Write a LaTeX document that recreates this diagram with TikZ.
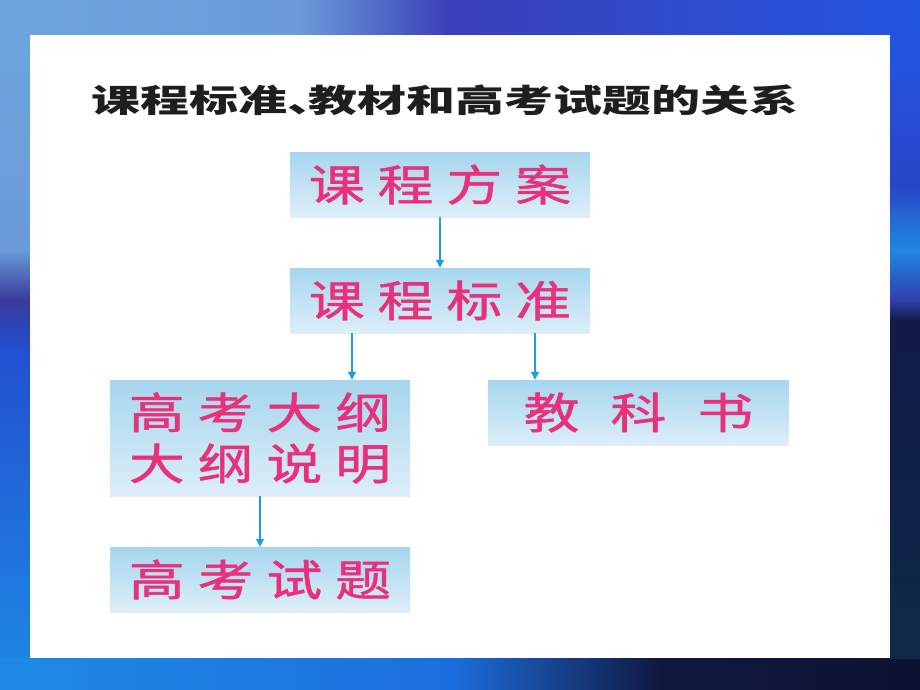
\documentclass[tikz,border=0pt]{standalone}
\usepackage{fontspec}
\usetikzlibrary{arrows.meta,positioning,shadings}
\setmainfont{Noto Sans CJK SC}
\newfontfamily\boxfont[FakeStretch=1.3,LetterSpace=30,FakeBold=1.3]{Noto Sans CJK SC}
\newfontfamily\titlefont[FakeStretch=1.53]{Noto Sans CJK SC}
\definecolor{boxtop}{HTML}{A6D6EE}
\definecolor{boxbot}{HTML}{DDEEF9}
\definecolor{boxtext}{HTML}{E8317B}
\definecolor{flowblue}{HTML}{1EA0D6}
\definecolor{titlegray}{HTML}{1E1E1E}
\definecolor{bgA}{HTML}{6CA6DE}
\definecolor{bgB}{HTML}{6A9AD8}
\definecolor{bgC}{HTML}{3A40B8}
\definecolor{bgD}{HTML}{2255E0}
\definecolor{bgE}{HTML}{3A3A9A}
\definecolor{bgF}{HTML}{2250D0}
\definecolor{bgG}{HTML}{1E8AE6}
\definecolor{bgH}{HTML}{1C6EDE}
\definecolor{bgI}{HTML}{101840}
\definecolor{bgJ}{HTML}{0C1230}
\definecolor{bgK}{HTML}{2846C8}
\definecolor{bgL}{HTML}{1E88E0}
\definecolor{bgM}{HTML}{3040B0}
\definecolor{bgN}{HTML}{121A48}
\definecolor{bgO}{HTML}{0C2A48}
\tikzset{
	stage/.style={minimum width=300pt, minimum height=65pt, inner sep=0pt,
		top color=boxtop, bottom color=boxbot, draw=none, text=boxtext,
		align=center, font=\boxfont\fontsize{43}{51}\selectfont},
	flow/.style={flowblue, line width=1.2pt, -{Triangle[length=8pt,width=8pt]}}
}
\begin{document}
\begin{tikzpicture}[x=1pt,y=-1pt]
	\useasboundingbox (0,0) rectangle (920,690);
	% background
	\shade[upper left=bgA, upper right=bgD, lower left=bgG, lower right=bgJ] (0,0) rectangle (920,690);
	\shade[left color=bgA, right color=bgB] (0,0) rectangle (300,35);
	\shade[left color=bgB, right color=bgC] (300,0) rectangle (450,35);
	\shade[left color=bgC, right color=bgD] (450,0) rectangle (920,35);
	\shade[top color=bgA, bottom color=bgB] (0,0) rectangle (30,250);
	\shade[top color=bgB, bottom color=bgE] (0,250) rectangle (30,300);
	\shade[top color=bgE, bottom color=bgF] (0,300) rectangle (30,350);
	\shade[top color=bgF, bottom color=bgG] (0,350) rectangle (30,690);
	\shade[left color=bgG, right color=bgH] (0,658) rectangle (450,690);
	\shade[left color=bgH, right color=bgI] (450,658) rectangle (660,690);
	\shade[left color=bgI, right color=bgJ] (660,658) rectangle (920,690);
	\shade[top color=bgD, bottom color=bgK] (890,35) rectangle (920,185);
	\shade[top color=bgK, bottom color=bgL] (890,185) rectangle (920,250);
	\shade[top color=bgL, bottom color=bgM] (890,250) rectangle (920,300);
	\shade[top color=bgM, bottom color=bgN] (890,300) rectangle (920,320);
	\shade[top color=bgN, bottom color=bgO] (890,320) rectangle (920,658);
	\fill[white] (30,35) rectangle (890,658);
	% title
	\node[font=\titlefont\bfseries\fontsize{32}{32}\selectfont, text=titlegray] (title) at (445,100) {课程标准、\kern-28pt 教材和高考试题的关系};
	% boxes
	\node[stage] (fangan) at (440,184.5) {课程方案};
	\node[stage] (biaozhun) at (440,300.5) {课程标准};
	\node[stage, minimum height=116pt] (dagang) at (260,438) {高考大纲\\大纲说明};
	\node[stage, minimum width=301pt] (jiaokeshu) at (638.5,412.5) {教\hspace{31pt}科\hspace{31pt}书};
	\node[stage] (shiti) at (260,579.5) {高考试题};
	% arrows
	\draw[flow] (fangan) -- (biaozhun);
	\draw[flow] ([xshift=-88pt]biaozhun.south) -- ([xshift=-88pt]biaozhun.south |- dagang.north);
	\draw[flow] ([xshift=95pt]biaozhun.south) -- ([xshift=95pt]biaozhun.south |- jiaokeshu.north);
	\draw[flow] (dagang) -- (shiti);
\end{tikzpicture}
\end{document}
